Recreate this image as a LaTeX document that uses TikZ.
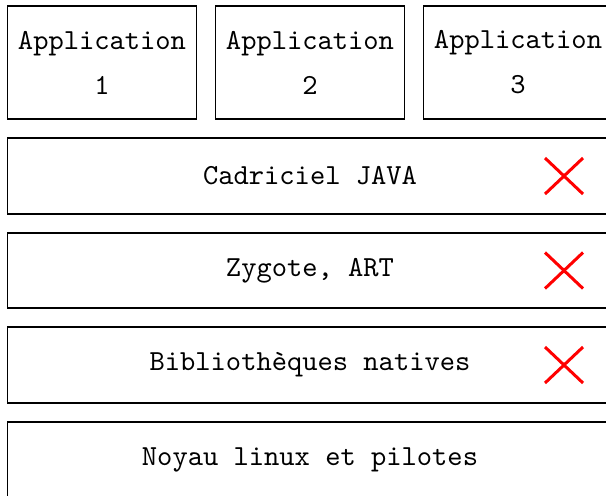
\documentclass[tikz,border=0pt]{standalone}
\usepackage{fontspec}
\newfontfamily\boxfam{lmmono10-regular}[Extension=.otf]
\begin{document}
\begin{tikzpicture}[x=0.5pt,y=-0.5pt,
  box/.style={draw=black,line width=0.6pt,rectangle,inner sep=0pt,font=\boxfam\fontsize{14.55}{22.5}\selectfont,align=center},
  appbox/.style={box,minimum width=94.5pt,minimum height=56.5pt},
  layer/.style={box,minimum width=302.5pt,minimum height=38pt},
  cross/.style={draw=red,line width=1.5pt}]
\useasboundingbox (0,0) rectangle (606,495);
\clip (0,0) rectangle (606,495);
\node[appbox] (a1) at (102,62.5) {Application\\1};
\node[appbox] (a2) at (310,62.5) {Application\\2};
\node[appbox] (a3) at (518,62.5) {Application\\3};
\node[layer] (java) at (310,176) {Cadriciel JAVA};
\node[layer,minimum height=37.5pt] (zyg) at (310,270.5) {Zygote, ART};
\node[layer] (lib) at (310,365) {Biblioth\`eques natives};
\node[layer] (noy) at (310,460) {Noyau linux et pilotes};
\foreach \n/\y in {x1/176,x2/270.5,x3/365}{
  \coordinate (\n) at (564,\y);
  \draw[cross] ([shift={(-19,-18)}]\n) -- ([shift={(19,18)}]\n);
  \draw[cross] ([shift={(-19,18)}]\n) -- ([shift={(19,-18)}]\n);
}
\end{tikzpicture}
\end{document}
